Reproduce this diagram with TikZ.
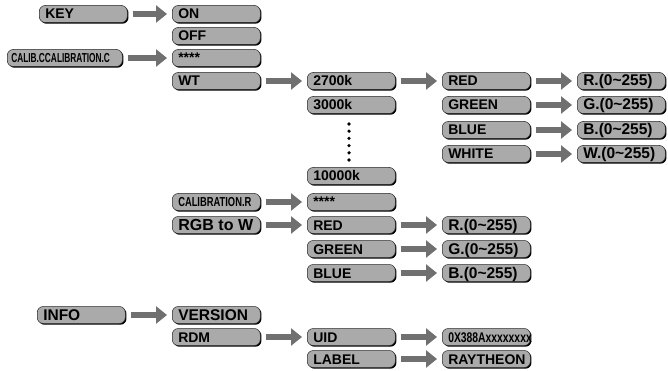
\documentclass[tikz,border=0pt]{standalone}
\usepackage{fontspec}
\setmainfont{Liberation Sans}
\usetikzlibrary{arrows.meta,shadows}
\definecolor{boxgray}{RGB}{170,170,170}
\definecolor{arrowgray}{RGB}{112,112,112}
\tikzset{
  menubox/.style={draw=black!85, line width=0.5pt, fill=boxgray, rounded corners=6pt,
    minimum height=17pt, text width=#1, inner xsep=6pt, inner ysep=0pt,
    text height=10pt, text depth=0pt, align=left, anchor=west,
    font=\bfseries\fontsize{14}{14}\selectfont,
    drop shadow={shadow xshift=1.2pt, shadow yshift=-1.2pt, fill=black, opacity=1}},
  menubox/.default=76pt,
  valbox/.style={menubox, font=\bfseries\fontsize{15.5}{15.5}\selectfont},
  goto/.style={draw=arrowgray, line width=6pt, shorten <=5pt, shorten >=5pt,
    -{Triangle[length=11pt,width=17pt]}},
}
\newcommand{\narrowtext}[2][0.72]{\scalebox{#1}[1]{#2}}

\begin{document}
\begin{tikzpicture}[x=1pt,y=-1pt]
\useasboundingbox (0,0) rectangle (668,371);

% key / calibration
\node[menubox] (key) at (39,14) {KEY};
\node[menubox] (on) at (172,14) {ON};
\node[menubox] (off) at (172,36) {OFF};
\node[menubox=107pt, inner xsep=4pt] (calibc) at (7,58) {\narrowtext[0.64]{\fontsize{13}{13}\selectfont CALIB.CCALIBRATION.C}};
\node[menubox] (cstar) at (172,58) {****};
\node[menubox] (wt) at (172,81) {WT};

% white temperatures
\node[menubox] (k2700) at (307,81) {2700k};
\node[menubox] (k3000) at (307,105) {3000k};
\node[menubox] (k10000) at (307,176) {10000k};
\foreach \i in {0,...,5}
  \fill (349,124+7.2*\i) circle (1.8pt);

\node[menubox] (wred) at (442,81) {RED};
\node[menubox] (wgreen) at (442,105) {GREEN};
\node[menubox] (wblue) at (442,130) {BLUE};
\node[menubox] (wwhite) at (442,154) {WHITE};
\node[valbox] (wredval) at (577,81) {R.(0\textasciitilde 255)};
\node[valbox] (wgreenval) at (577,105) {G.(0\textasciitilde 255)};
\node[valbox] (wblueval) at (577,130) {B.(0\textasciitilde 255)};
\node[valbox] (wwhiteval) at (577,154) {W.(0\textasciitilde 255)};

% rgb calibration
\node[menubox] (calibr) at (172,202) {\narrowtext{\fontsize{13}{13}\selectfont CALIBRATION.R}};
\node[menubox] (rstar) at (307,202) {****};
\node[menubox] (rgbw) at (172,225) {\fontsize{16}{16}\selectfont RGB to W};
\node[menubox] (rred) at (307,225) {RED};
\node[menubox] (rgreen) at (307,249) {GREEN};
\node[menubox] (rblue) at (307,273) {BLUE};
\node[valbox] (rredval) at (442,225) {R.(0\textasciitilde 255)};
\node[valbox] (rgreenval) at (442,249) {G.(0\textasciitilde 255)};
\node[valbox] (rblueval) at (442,273) {B.(0\textasciitilde 255)};

% info
\node[valbox] (info) at (37,315) {INFO};
\node[valbox] (version) at (172,315) {VERSION};
\node[menubox] (rdm) at (172,337) {RDM};
\node[menubox] (uid) at (307,337) {UID};
\node[menubox] (label) at (307,359) {LABEL};
\node[menubox] (uidval) at (442,337) {\narrowtext[0.74]{0X388Axxxxxxxx}};
\node[menubox] (labelval) at (442,359) {RAYTHEON};

% arrows
\draw[goto] (key) -- (on);
\draw[goto] (calibc) -- (cstar);
\draw[goto] (wt) -- (k2700);
\draw[goto] (k2700) -- (wred);
\draw[goto] (wred) -- (wredval);
\draw[goto] (wgreen) -- (wgreenval);
\draw[goto] (wblue) -- (wblueval);
\draw[goto] (wwhite) -- (wwhiteval);
\draw[goto] (calibr) -- (rstar);
\draw[goto] (rgbw) -- (rred);
\draw[goto] (rred) -- (rredval);
\draw[goto] (rgreen) -- (rgreenval);
\draw[goto] (rblue) -- (rblueval);
\draw[goto] (info) -- (version);
\draw[goto] (rdm) -- (uid);
\draw[goto] (uid) -- (uidval);
\draw[goto] (label) -- (labelval);
\end{tikzpicture}
\end{document}
